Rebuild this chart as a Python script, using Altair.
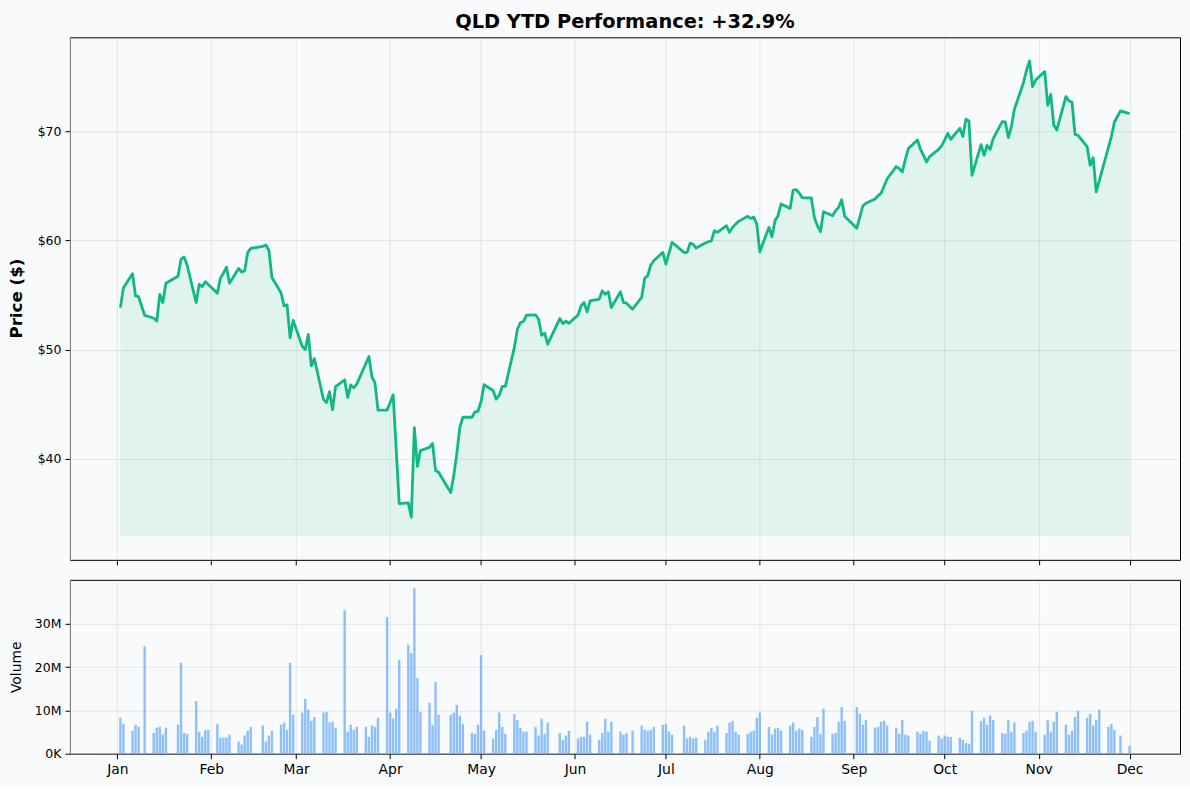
import altair as alt
import pandas as pd

# ---------------- data ----------------
holidays = ["2025-01-01", "2025-01-09", "2025-01-20", "2025-02-17", "2025-04-18",
            "2025-05-26", "2025-06-19", "2025-07-04", "2025-09-01", "2025-11-27"]

price_jan = [53.84, 55.67, 56.95, 54.91, 54.85, 53.14, 52.87, 52.62, 55.06, 54.30,
             56.07, 56.71, 58.26, 58.48, 57.75, 54.30, 55.98, 55.76, 56.22, 55.95]
price_feb = [55.15, 56.53, 57.00, 57.55, 56.08, 57.42, 57.10, 57.20, 58.88, 59.27,
             59.45, 59.58, 59.10, 56.60, 55.20, 54.00, 54.09, 51.08, 52.67]
price_mar = [50.30, 50.00, 51.38, 48.50, 49.18, 45.44, 45.14, 46.15, 44.48, 46.60,
             47.22, 45.62, 46.76, 46.50, 46.84, 48.72, 49.36, 47.50, 46.95, 44.46, 44.46]
price_apr = [45.16, 45.85, 40.90, 35.90, 35.96, 34.65, 42.85, 39.30, 40.75, 41.05,
             41.40, 38.92, 38.76, 36.90, 38.46, 40.45, 42.88, 43.80, 43.80, 44.30, 44.35]
price_may = [45.22, 46.78, 46.25, 45.45, 45.82, 46.62, 46.62, 50.20, 51.86, 52.47,
             52.57, 53.15, 53.18, 52.78, 51.31, 51.50, 50.49, 52.84, 52.38, 52.60, 52.41]
price_jun = [53.15, 54.00, 54.31, 53.45, 54.46, 54.62, 55.38, 55.07, 55.29, 53.85,
             55.29, 54.31, 54.25, 53.70, 54.77, 56.54, 56.76, 57.73, 58.13, 58.90]
price_jul = [57.83, 58.81, 59.81, 58.90, 58.90, 59.75, 59.63, 59.30, 59.75, 59.87,
             59.96, 60.88, 60.73, 61.34, 60.73, 61.19, 61.49, 61.74, 62.20, 62.01,
             62.13, 61.49]
price_aug = [58.95, 61.19, 60.33, 61.80, 62.26, 63.33, 62.93, 64.61, 64.64, 64.34,
             63.91, 63.88, 62.10, 61.34, 60.79, 62.62, 62.26, 62.72, 63.02, 63.72, 62.20]
price_sep = [61.12, 62.14, 63.17, 63.39, 63.79, 64.09, 64.31, 64.95, 65.62, 66.76,
             66.57, 66.27, 67.40, 68.40, 69.19, 68.34, 67.79, 67.18, 67.67, 68.34, 68.65]
price_oct = [69.20, 69.80, 69.26, 70.26, 69.50, 71.09, 70.93, 65.96, 68.77, 67.79,
             68.71, 68.34, 69.32, 70.87, 70.84, 69.41, 70.41, 72.00, 74.44, 75.60,
             76.42, 74.07, 74.68]
price_nov = [75.45, 72.37, 73.37, 70.54, 70.11, 73.16, 72.76, 72.67, 69.71, 69.62,
             68.58, 66.88, 67.58, 64.44, 65.44, 68.49, 69.50, 70.84, 71.85]
price_dec = [71.60]

# volume in millions of shares
vol_jan = [8.3, 6.9, 5.3, 6.7, 6.2, 24.9, 4.8, 6.0, 6.2, 4.4, 6.0, 6.7, 21.0, 4.8, 4.6,
           12.2, 5.1, 3.9, 5.5, 5.5]
vol_feb = [6.9, 3.7, 3.7, 3.7, 4.4, 2.8, 2.1, 4.2, 5.3, 6.2, 6.5, 2.8, 4.2, 5.3, 6.7,
           7.2, 5.5, 21.0, 9.0]
vol_mar = [9.5, 12.7, 10.2, 7.6, 8.5, 9.5, 9.7, 7.2, 7.4, 6.0, 33.2, 5.1, 6.7, 5.5, 6.2,
           6.2, 3.9, 6.5, 6.2, 8.3, 31.6]
vol_apr = [9.5, 8.1, 10.4, 21.7, 25.2, 23.3, 38.3, 17.5, 9.7, 11.8, 6.7, 16.6, 9.0, 9.0,
           9.5, 11.3, 8.8, 6.9, 4.8, 4.6, 6.7]
vol_may = [22.8, 5.3, 3.5, 5.5, 9.5, 6.2, 4.6, 9.2, 7.8, 6.0, 5.1, 5.1, 6.2, 4.2, 8.1,
           4.6, 7.2, 4.8, 3.2, 4.2, 5.3]
vol_jun = [3.5, 3.9, 3.9, 7.4, 4.4, 3.2, 4.8, 8.1, 5.1, 7.4, 5.1, 4.4, 4.8, 5.3, 6.5,
           5.5, 5.3, 5.5, 6.2, 6.7]
vol_jul = [6.9, 5.1, 4.4, 6.5, 3.5, 3.9, 3.5, 3.7, 3.2, 5.1, 6.0, 5.1, 6.5, 4.8, 7.2,
           7.6, 5.1, 4.4, 4.6, 5.1, 5.3, 8.3]
vol_aug = [9.5, 6.2, 4.4, 5.8, 6.0, 5.3, 6.5, 7.2, 5.3, 5.8, 5.5, 3.9, 6.2, 8.5, 4.6,
           10.4, 4.6, 4.8, 7.4, 10.8, 7.6]
vol_sep = [10.8, 9.2, 6.7, 7.8, 6.0, 6.2, 7.4, 7.6, 6.5, 6.0, 4.6, 7.8, 4.4, 4.2, 5.1,
           4.6, 5.3, 5.1, 3.0, 4.2, 3.5]
vol_oct = [4.2, 3.9, 3.9, 3.7, 3.2, 2.5, 2.3, 9.9, 7.6, 8.3, 6.7, 8.8, 7.8, 4.8, 4.6,
           7.8, 5.1, 7.2, 4.8, 5.3, 7.4, 7.6, 5.1]
vol_nov = [4.4, 7.8, 5.1, 7.4, 9.7, 6.7, 4.4, 5.3, 8.5, 9.9, 8.3, 9.2, 6.5, 7.8, 10.2,
           6.2, 6.9, 5.5, 4.2]
vol_dec = [1.8]

month_ticks = ["2025-01-01", "2025-02-01", "2025-03-01", "2025-04-01", "2025-05-01",
               "2025-06-01", "2025-07-01", "2025-08-01", "2025-09-01", "2025-10-01",
               "2025-11-01", "2025-12-01"]
price_ticks = [40, 50, 60, 70]
volume_ticks = [0, 10e6, 20e6, 30e6]

# ---------------- assemble ----------------
days = [d for d in pd.bdate_range("2025-01-02", "2025-12-01")
        if d.strftime("%Y-%m-%d") not in holidays]
prices = (price_jan + price_feb + price_mar + price_apr + price_may + price_jun +
          price_jul + price_aug + price_sep + price_oct + price_nov + price_dec)
vols = (vol_jan + vol_feb + vol_mar + vol_apr + vol_may + vol_jun + vol_jul +
        vol_aug + vol_sep + vol_oct + vol_nov + vol_dec)
assert len(days) == len(prices) == len(vols), (len(days), len(prices), len(vols))

fill_base = min(prices) * 0.95
df = pd.DataFrame({
    "date": [d.strftime("%Y-%m-%d") for d in days],
    "price": prices,
    "volume": [v * 1e6 for v in vols],
    "base": [fill_base] * len(prices),
})

# scale domains like matplotlib's 5% margins
def ms(ts):
    return int(pd.Timestamp(ts).value // 1_000_000)

first, last = pd.Timestamp(df["date"].iloc[0]), pd.Timestamp(df["date"].iloc[-1])
pad = (last - first) * 0.05
x_domain = [ms(first - pad), ms(last + pad)]
tick_ms = [ms(t) for t in month_ticks]

pmax = max(prices)
prng = pmax - fill_base
y_domain = [fill_base - 0.05 * prng, pmax + 0.05 * prng]
v_domain = [0, max(vols) * 1e6 * 1.05]

FONT = "DejaVu Sans"
BG = "#f8fafc"
W = 1111

x_scale = alt.Scale(type="utc", domain=x_domain, nice=False, padding=0)

x_top = alt.X("date:T", scale=x_scale,
              axis=alt.Axis(values=tick_ms, labels=False, title=None, grid=True,
                            ticks=True, tickSize=5, domain=False))
y_price = alt.Y("price:Q",
                scale=alt.Scale(domain=y_domain, nice=False, zero=False),
                axis=alt.Axis(values=price_ticks, labelExpr="'$' + datum.value",
                              title="Price ($)", titleFontSize=16.7, titleFontWeight="bold",
                              titleX=-53, titleY=261, titleBaseline="middle",
                              titleAngle=270, labelFontSize=12.5))

area = alt.Chart(df).mark_area(color="#10b981", opacity=0.1).encode(
    x=x_top, y=y_price, y2="base:Q")
line = alt.Chart(df).mark_line(color="#10b981", strokeWidth=2.8, strokeJoin="round").encode(
    x=x_top, y=y_price)

top = alt.layer(area, line).properties(
    width=W, height=523,
    title=alt.Title("QLD YTD Performance: +32.9%", fontSize=19.4, fontWeight="bold",
                    font=FONT, color="black", anchor="middle", frame="group",
                    baseline="alphabetic", offset=-10))

x_bot = alt.X("date:T", scale=x_scale,
              axis=alt.Axis(values=tick_ms, labelExpr="utcFormat(datum.value, '%b')",
                            title=None, grid=True, ticks=True, tickSize=5, domain=False,
                            labelFontSize=13.9, labelPadding=4))
bars = alt.Chart(df).mark_bar(color="#60a5fa", opacity=0.7, size=2.4).encode(
    x=x_bot,
    y=alt.Y("volume:Q", scale=alt.Scale(domain=v_domain, nice=False),
            axis=alt.Axis(values=volume_ticks,
                          labelExpr="datum.value >= 1e6 ? format(datum.value / 1e6, '.0f') + 'M' : format(datum.value / 1e3, '.0f') + 'K'",
                          title="Volume", titleFontSize=13.9, titleFontWeight="normal",
                          titleX=-53, titleY=87, titleBaseline="middle", titleAngle=270,
                          labelFontSize=12.5)),
).properties(width=W, height=174)

chart = alt.vconcat(top, bars, spacing=20, bounds="flush").properties(
    background=BG,
    padding={"left": 8, "top": 11, "right": 9, "bottom": 8},
).configure_view(
    stroke="black", strokeWidth=1, fill=BG,
).configure_axis(
    labelFont=FONT, titleFont=FONT, labelColor="black", titleColor="black",
    tickColor="black", tickWidth=1, tickSize=5, labelPadding=4,
    gridColor="#b0b0b0", gridOpacity=0.35, gridWidth=0.8,
).configure_title(font=FONT)

chart.save("out.html", embed_options={"renderer": "svg", "actions": False})
